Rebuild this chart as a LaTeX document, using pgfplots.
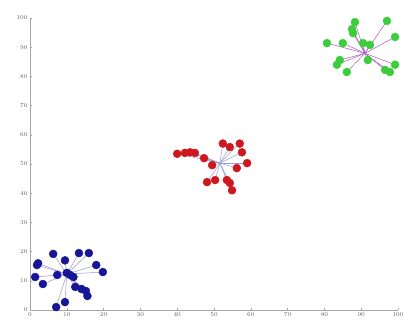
\documentclass[border=0pt]{standalone}
\usepackage{pgfplots}
\usepackage{pgfplotstable}
\pgfplotsset{compat=1.18}
\definecolor{cblue}{RGB}{22,22,150}
\definecolor{cred}{RGB}{205,25,30}
\definecolor{cgreen}{RGB}{60,205,60}
\definecolor{lnblue}{RGB}{150,150,200}
\definecolor{lnred}{RGB}{150,160,210}
\definecolor{lngreen}{RGB}{170,90,190}
\pgfplotstableread{
x y
6.3 19.2
13.3 19.5
16.0 19.5
2.2 16.0
1.9 15.4
9.5 17.0
18.0 15.4
19.8 13.0
1.4 11.3
7.4 12.0
10.0 12.7
10.9 12.0
11.8 11.3
3.5 8.9
12.3 7.9
14.0 7.2
15.2 6.5
15.6 4.8
9.5 2.7
7.1 1.0
}\blue
\pgfplotstableread{
x y
40.0 53.5
42.1 53.8
43.5 54.0
44.8 53.8
47.3 52.0
52.4 57.0
54.3 55.8
57.0 57.0
57.6 54.0
59.0 50.3
56.2 48.6
49.5 49.6
48.1 43.8
50.3 44.5
54.3 43.5
54.9 41.0
53.5 44.5
}\red
\pgfplotstableread{
x y
88.3 98.6
97.0 99.0
87.5 96.2
87.8 94.8
80.7 91.4
85.0 91.4
90.5 91.4
92.4 90.8
99.2 93.5
84.2 85.6
83.4 84.0
91.8 85.6
86.1 81.5
96.5 82.2
97.8 81.5
99.2 84.0
}\green
\begin{document}
\begin{tikzpicture}
\begin{axis}[
  scale only axis, width=368bp, height=292bp,
  xmin=0, xmax=100, ymin=0, ymax=100,
  axis x line*=bottom, axis y line*=left,
  axis line style={gray!70, line width=0.5pt},
  xtick={0,10,...,100}, ytick={0,10,...,100},
  tick style={gray!70, line width=0.4pt}, major tick length=2bp,
  tick align=inside,
  ticklabel style={font=\fontsize{6}{7}\selectfont, text=gray!80!black},
  xticklabel style={yshift=1bp},
  yticklabel style={xshift=1bp},
  clip=false,
]
\addplot[quiver={u=10-\thisrow{x}, v=12.3-\thisrow{y}}, lnblue, line width=0.5pt, mark=none] table[x=x,y=y] {\blue};
\addplot[quiver={u=51.6-\thisrow{x}, v=50.3-\thisrow{y}}, lnred, line width=0.5pt, mark=none] table[x=x,y=y] {\red};
\addplot[quiver={u=91-\thisrow{x}, v=87.9-\thisrow{y}}, lngreen, line width=0.5pt, mark=none] table[x=x,y=y] {\green};
\addplot[only marks, mark=*, mark size=4bp, cblue, mark options={fill=cblue, draw=cblue}] table[x=x,y=y] {\blue};
\addplot[only marks, mark=*, mark size=4bp, cred, mark options={fill=cred, draw=cred}] table[x=x,y=y] {\red};
\addplot[only marks, mark=*, mark size=4bp, cgreen, mark options={fill=cgreen, draw=cgreen}] table[x=x,y=y] {\green};
\end{axis}
\pgfresetboundingbox
\path (-30bp,-12bp) rectangle (373bp,310bp);
\end{tikzpicture}
\end{document}
